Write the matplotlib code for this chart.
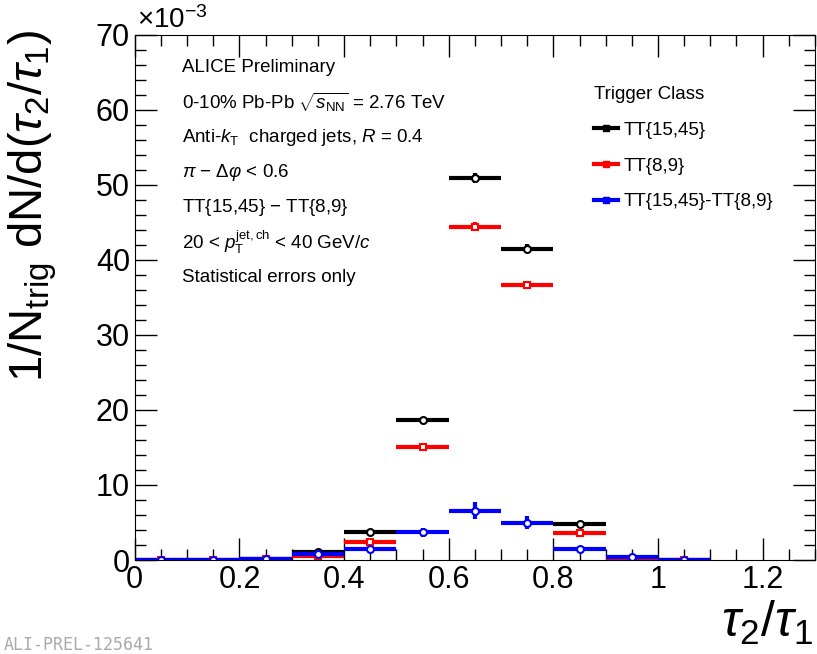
import numpy as np
import matplotlib.pyplot as plt
from matplotlib.lines import Line2D
from matplotlib.ticker import MultipleLocator

plt.rcParams['font.family'] = ['Liberation Sans', 'DejaVu Sans']
plt.rcParams['mathtext.fontset'] = 'custom'
plt.rcParams['mathtext.rm'] = 'Liberation Sans'
plt.rcParams['mathtext.it'] = 'Liberation Sans:italic'

# bin edges in tau2/tau1
edges = [0.0, 0.1, 0.2, 0.3, 0.4, 0.5, 0.6, 0.7, 0.8, 0.9, 1.0, 1.1]

# values in units of 1e-3
tt_high = [0.05, 0.05, 0.2, 1.1, 3.7, 18.7, 50.9, 41.5, 4.85, 0.3, 0.02]
tt_high_err = [0.05, 0.05, 0.1, 0.2, 0.3, 0.4, 0.7, 0.6, 0.3, 0.1, 0.02]
tt_low = [0.05, 0.05, 0.2, 0.55, 2.45, 15.1, 44.4, 36.6, 3.55, 0.1, 0.02]
tt_low_err = [0.05, 0.05, 0.1, 0.2, 0.3, 0.4, 0.6, 0.5, 0.3, 0.1, 0.02]
tt_diff = [0.05, 0.05, 0.2, 0.85, 1.42, 3.7, 6.6, 5.0, 1.45, 0.45, 0.0]
tt_diff_err = [0.05, 0.05, 0.15, 0.3, 0.4, 0.6, 1.1, 0.9, 0.4, 0.15, 0.05]

labels = ['TT{15,45}', 'TT{8,9}', 'TT{15,45}-TT{8,9}']
colors = ['black', 'red', 'blue']
markers = ['o', 's', 'o']

edges = np.array(edges)
centers = 0.5 * (edges[:-1] + edges[1:])
halfw = 0.5 * np.diff(edges)

fig = plt.figure(figsize=(8.17, 6.54), dpi=100)
ax = fig.add_axes([0.165, 0.1437, 0.8325, 0.803])

series = [(tt_high, tt_high_err), (tt_low, tt_low_err), (tt_diff, tt_diff_err)]
for (vals, errs), col, mk in zip(series, colors, markers):
    ax.errorbar(centers, vals, xerr=halfw, yerr=errs, fmt=mk, color=col,
                mfc='white', mec=col, ms=5, mew=1.5, elinewidth=3, capsize=0)

ax.set_xlim(0, 1.3)
ax.set_ylim(0, 70)
ax.xaxis.set_major_locator(MultipleLocator(0.2))
ax.xaxis.set_minor_locator(MultipleLocator(0.05))
ax.yaxis.set_major_locator(MultipleLocator(10))
ax.yaxis.set_minor_locator(MultipleLocator(2))
ax.tick_params(which='both', direction='in', top=True, right=True, labelsize=22)
ax.tick_params(which='major', length=16, width=1)
ax.tick_params(which='minor', length=8, width=1)
ax.set_xticks([0, 0.2, 0.4, 0.6, 0.8, 1.0, 1.2])
ax.set_xticklabels(['0', '0.2', '0.4', '0.6', '0.8', '1', '1.2'])

fig.text(0.168, 0.948, r'$\times$10$^{-3}$', fontsize=20, va='bottom')
fig.text(0.04, 0.955, r'1/N$_{\rm trig}$ dN/d($\tau_{\mathit{2}}/\tau_{\mathit{1}}$)',
         rotation=90, fontsize=34, ha='center', va='top')
fig.text(0.995, 0.01, r'$\tau_{\mathit{2}}/\tau_{\mathit{1}}$', fontsize=36,
         ha='right', va='bottom')
fig.text(0.005, 0.0, 'ALI-PREL-125641', fontsize=12, color='#aaaaaa',
         family='DejaVu Sans Mono', va='bottom')

info = ['ALICE Preliminary',
        r'0-10% Pb-Pb $\sqrt{s_{\rm NN}}$ = 2.76 TeV',
        r'Anti-$k_{\rm T}$  charged jets, $R$ = 0.4',
        r'$\pi$ $-$ $\Delta\varphi$ < 0.6',
        r'TT{15,45} $-$ TT{8,9}',
        r'20 < $p_{\rm T}^{\rm jet,ch}$ < 40 GeV/$c$',
        'Statistical errors only']
for i, line in enumerate(info):
    ax.text(0.07, 0.937 - i * 0.0665, line, transform=ax.transAxes,
            fontsize=13.5, va='center')

handles = [Line2D([], [], color=c, lw=3, marker='s', ms=4, mfc=c, mec=c)
           for c in colors]
leg = ax.legend(handles, labels, loc='upper left', bbox_to_anchor=(0.65, 0.935),
                frameon=False, fontsize=13.5, title='Trigger Class',
                title_fontsize=13.5, handlelength=1.3, handletextpad=0.3,
                labelspacing=1.0)
leg._legend_box.align = 'left'

fig.savefig('out.png', dpi=100)
